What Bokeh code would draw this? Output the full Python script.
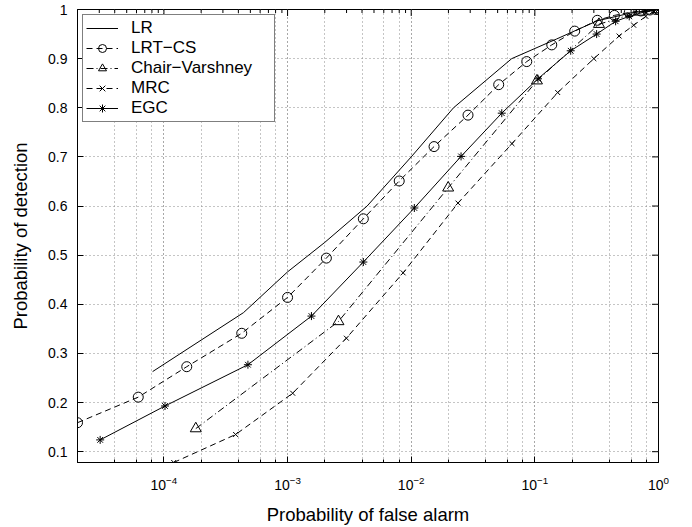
import math
from bokeh.plotting import figure
from bokeh.models import (LogTicker, FixedTicker, CustomJSTickFormatter, LogTickFormatter,
                          Legend, LegendItem, Range1d)
from bokeh.embed import file_html
from bokeh.resources import INLINE

# ---------------- data ----------------
lr_x = [8.1e-5, 4.4e-4, 1.0e-3, 2.0e-3, 4.4e-3, 1.0e-2, 2.2e-2, 6.5e-2, 0.15, 0.32, 0.6, 1.0]
lr_y = [0.263, 0.383, 0.466, 0.526, 0.600, 0.700, 0.800, 0.900, 0.940, 0.977, 0.993, 1.0]

lrt_x = [2.0e-5, 6.2e-5, 1.53e-4, 4.26e-4, 1.0e-3, 2.06e-3, 4.1e-3, 8.0e-3, 1.53e-2, 2.88e-2,
         5.1e-2, 8.6e-2, 0.137, 0.21, 0.32, 0.44, 0.58, 0.72, 0.85, 0.95, 1.0]
lrt_y = [0.159, 0.211, 0.273, 0.341, 0.414, 0.494, 0.574, 0.651, 0.721, 0.785,
         0.847, 0.894, 0.928, 0.956, 0.978, 0.988, 0.994, 0.997, 0.999, 1.0, 1.0]

cv_x = [1.81e-4, 2.58e-3, 1.99e-2, 0.104, 0.33, 0.7, 1.0]
cv_y = [0.147, 0.365, 0.637, 0.855, 0.970, 0.995, 1.0]

mrc_x = [1.2e-4, 3.8e-4, 1.1e-3, 2.99e-3, 8.6e-3, 2.39e-2, 6.53e-2, 0.153, 0.30, 0.48, 0.63, 0.79, 0.92, 1.0]
mrc_y = [0.078, 0.135, 0.219, 0.331, 0.464, 0.606, 0.727, 0.831, 0.900, 0.946, 0.968, 0.986, 0.996, 1.0]

egc_x = [3.05e-5, 1.02e-4, 4.78e-4, 1.56e-3, 4.1e-3, 1.06e-2, 2.53e-2, 5.4e-2, 0.106, 0.195, 0.316, 0.45, 0.58, 0.79, 1.0]
egc_y = [0.124, 0.193, 0.277, 0.376, 0.486, 0.596, 0.701, 0.789, 0.859, 0.916, 0.950, 0.976, 0.986, 0.996, 1.0]

series_names = ["LR", "LRT\u2212CS", "Chair\u2212Varshney", "MRC", "EGC"]
y_ticks = [0.1, 0.2, 0.3, 0.4, 0.5, 0.6, 0.7, 0.8, 0.9, 1.0]
x_major_ticks = [1e-4, 1e-3, 1e-2, 1e-1, 1.0]
x_label = "Probability of false alarm"
y_label = "Probability of detection"

X_START, X_END = 2e-5, 1.0
Y_START, Y_END = 0.078, 1.0

# minor tick positions of the log axis (2..9 x 10^k inside the range)
x_minor_ticks = [m * 10.0 ** k for k in range(-5, 0) for m in range(2, 10)
                 if X_START <= m * 10.0 ** k <= X_END]

FONT = "Liberation Sans"

p = figure(width=692, height=527, x_axis_type="log",
           x_range=Range1d(X_START, X_END), y_range=Range1d(Y_START, Y_END),
           output_backend="svg", toolbar_location=None,
           min_border_left=77, min_border_right=34, min_border_top=9, min_border_bottom=62)
p.background_fill_color = "white"
p.border_fill_color = "white"
p.outline_line_color = "black"
p.outline_line_width = 1

y_fmt = CustomJSTickFormatter(code="return (Math.round(tick*10)/10).toString();")


def style_axis(ax):
    ax.axis_line_color = "black"
    ax.major_tick_in = 6
    ax.major_tick_out = 0
    ax.minor_tick_in = 3
    ax.minor_tick_out = 0
    ax.major_tick_line_color = "black"
    ax.minor_tick_line_color = "black"
    ax.major_label_text_font = FONT
    ax.major_label_text_font_size = "14px"
    ax.major_label_text_color = "black"
    ax.axis_label_text_font = FONT
    ax.axis_label_text_font_size = "18.5px"
    ax.axis_label_text_font_style = "normal"
    ax.axis_label_text_color = "black"


xa = p.xaxis[0]
style_axis(xa)
xa.ticker = LogTicker(desired_num_ticks=6)
xa.formatter = LogTickFormatter()
xa.axis_label = x_label
xa.major_label_standoff = 13
xa.axis_label_standoff = 11

ya = p.yaxis[0]
style_axis(ya)
ya.ticker = FixedTicker(ticks=y_ticks)
ya.formatter = y_fmt
ya.axis_label = y_label
ya.major_label_standoff = 10
ya.axis_label_standoff = 14
ya.minor_tick_line_color = None

p.xgrid.grid_line_color = "#8a8a8a"
p.xgrid.grid_line_dash = "1 3"
p.xgrid.minor_grid_line_color = "#8a8a8a"
p.xgrid.minor_grid_line_dash = "1 3"
p.ygrid.grid_line_color = "#8a8a8a"
p.ygrid.grid_line_dash = "1 3"

# inward ticks on the top and right frame edges (half of each dash is clipped by the frame)
p.scatter(x_major_ticks, [Y_END] * len(x_major_ticks), marker="dash", angle=math.pi / 2,
          size=13, line_color="black", line_width=1)
p.scatter(x_minor_ticks, [Y_END] * len(x_minor_ticks), marker="dash", angle=math.pi / 2,
          size=7, line_color="black", line_width=1)
p.scatter([X_END] * len(y_ticks), y_ticks, marker="dash", size=13, line_color="black", line_width=1)

LW = 1
lr_line = p.line(lr_x, lr_y, line_color="black", line_width=LW)

lrt_line = p.line(lrt_x, lrt_y, line_color="black", line_width=LW, line_dash="6 4")
lrt_mk = p.scatter(lrt_x, lrt_y, marker="circle", size=10, fill_color=None, line_color="black", line_width=LW)

cv_line = p.line(cv_x, cv_y, line_color="black", line_width=LW, line_dash="7 3 1 3")
cv_mk = p.scatter(cv_x, cv_y, marker="triangle", size=11, fill_color=None, line_color="black", line_width=LW)

mrc_line = p.line(mrc_x, mrc_y, line_color="black", line_width=LW, line_dash="6 4")
mrc_mk = p.scatter(mrc_x, mrc_y, marker="x", size=7, line_color="black", line_width=LW)

egc_line = p.line(egc_x, egc_y, line_color="black", line_width=LW)
egc_mk = p.scatter(egc_x, egc_y, marker="asterisk", size=8, line_color="black", line_width=LW)

legend = Legend(items=[
    LegendItem(label=series_names[0], renderers=[lr_line]),
    LegendItem(label=series_names[1], renderers=[lrt_line, lrt_mk]),
    LegendItem(label=series_names[2], renderers=[cv_line, cv_mk]),
    LegendItem(label=series_names[3], renderers=[mrc_line, mrc_mk]),
    LegendItem(label=series_names[4], renderers=[egc_line, egc_mk]),
], location="top_left")
legend.border_line_color = "black"
legend.border_line_width = 1
legend.background_fill_color = "white"
legend.background_fill_alpha = 1
legend.padding = 3
legend.spacing = 0
legend.margin = 5
legend.label_height = 20
legend.glyph_height = 20
legend.glyph_width = 32
legend.label_standoff = 13
legend.label_width = 140
legend.label_text_font = FONT
legend.label_text_font_size = "17px"
legend.label_text_color = "black"
p.add_layout(legend)

open("out.html", "w").write(file_html(p, INLINE))
